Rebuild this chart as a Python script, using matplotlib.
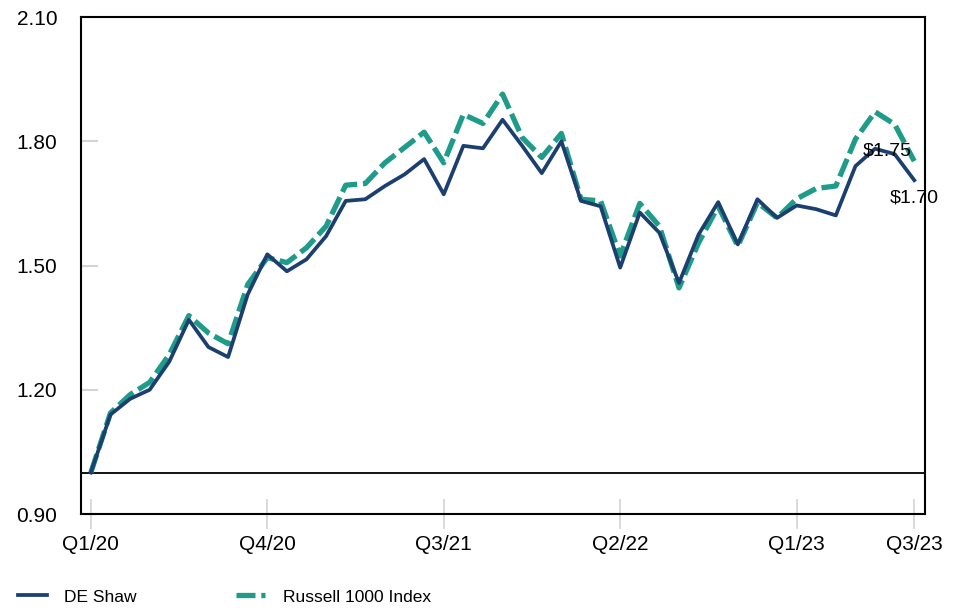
import matplotlib

matplotlib.use("Agg")

import matplotlib.pyplot as plt
import numpy as np

# monthly growth of $1, Q1/20 .. Q3/23
TICK_POS = [0, 9, 18, 27, 36, 42]
TICK_LABELS = ["Q1/20", "Q4/20", "Q3/21", "Q2/22", "Q1/23", "Q3/23"]

DE_SHAW = [
    1.00, 1.14, 1.178, 1.20, 1.268, 1.369, 1.303, 1.279, 1.43, 1.527,
    1.486, 1.515, 1.571, 1.656, 1.66, 1.692, 1.72, 1.757, 1.672, 1.789,
    1.783, 1.852, 1.789, 1.723, 1.80, 1.656, 1.643, 1.495, 1.628, 1.579,
    1.458, 1.575, 1.653, 1.551, 1.66, 1.615, 1.645, 1.636, 1.621, 1.74,
    1.782, 1.769, 1.706,
]
RUSSELL = [
    1.00, 1.144, 1.188, 1.218, 1.285, 1.379, 1.337, 1.311, 1.454, 1.519,
    1.507, 1.543, 1.595, 1.694, 1.698, 1.748, 1.785, 1.822, 1.748, 1.865,
    1.843, 1.914, 1.809, 1.761, 1.819, 1.66, 1.656, 1.523, 1.65, 1.595,
    1.446, 1.555, 1.643, 1.547, 1.652, 1.615, 1.661, 1.686, 1.692, 1.805,
    1.871, 1.841, 1.752,
]

NAVY = "#1b3f6e"
TEAL = "#1f9c89"

plt.rcParams["font.family"] = ["Liberation Sans", "DejaVu Sans"]

fig = plt.figure(figsize=(9.58, 6.08), dpi=100)
ax = fig.add_axes([0.0846, 0.1546, 0.881, 0.8174])

x = np.arange(len(DE_SHAW))
ax.plot(x, RUSSELL, color=TEAL, linewidth=3.8, dashes=(3.6, 1.1),
        label="Russell 1000 Index", zorder=2)
ax.plot(x, DE_SHAW, color=NAVY, linewidth=2.7, label="DE Shaw", zorder=3)
ax.axhline(1.0, color="black", linewidth=1.3, zorder=1)

ax.text(x[-1] - 1.4, RUSSELL[-1] + 0.025, r"\$%.2f" % RUSSELL[-1], ha="center", va="center",
        fontsize=14, zorder=4)
ax.text(x[-1], DE_SHAW[-1] - 0.043, r"\$%.2f" % 1.70, ha="center", va="center",
        fontsize=14, zorder=4)

ax.set_xlim(-0.5, 42.55)
ax.set_ylim(0.90, 2.10)
ax.set_yticks([0.90, 1.20, 1.50, 1.80, 2.10])
ax.set_yticklabels(["0.90", "1.20", "1.50", "1.80", "2.10"])
ax.set_xticks(TICK_POS)
ax.set_xticklabels(TICK_LABELS)

ax.tick_params(axis="y", direction="in", length=12, width=1.5, color="#d4d4d4",
               labelsize=15, pad=17)
ax.tick_params(axis="x", direction="inout", length=22, width=1.2, color="#d4d4d4",
               labelsize=15, pad=4)
for spine in ax.spines.values():
    spine.set_linewidth(1.5)
    spine.set_color("black")

handles, labels = ax.get_legend_handles_labels()
fig.legend(handles[::-1], labels[::-1], loc="lower left", bbox_to_anchor=(0.002, -0.02),
           ncol=2, frameon=False, fontsize=12.5, handlelength=1.7, columnspacing=5.7,
           handletextpad=1.0)

fig.savefig("out.png", dpi=100)
